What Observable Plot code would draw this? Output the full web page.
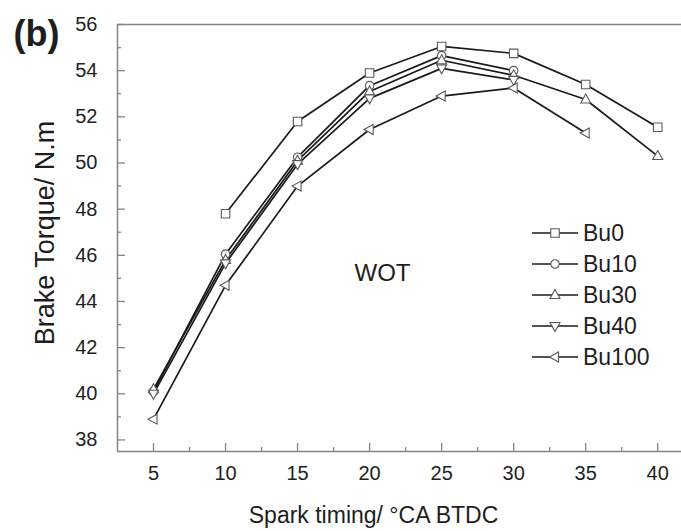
<!DOCTYPE html>
<html>
<head>
<meta charset="utf-8">
<script src="https://cdn.jsdelivr.net/npm/d3@7"></script>
<script src="https://cdn.jsdelivr.net/npm/@observablehq/plot@0.6"></script>
<style>
  body { margin: 0; background: #fff; }
  #chart { width: 681px; height: 531px; }
</style>
</head>
<body>
<div id="chart"></div>
<script>
// Spark timing (°CA BTDC) and brake torque (N.m) at wide open throttle
const timing = [5, 10, 15, 20, 25, 30, 35, 40];
const seriesNames = ["Bu0", "Bu10", "Bu30", "Bu40", "Bu100"];
const bu0   = [null, 47.8, 51.8, 53.9, 55.05, 54.75, 53.4, 51.55];
const bu10  = [40.1, 46.05, 50.25, 53.35, 54.65, 54.0, null, null];
const bu30  = [40.2, 45.8, 50.1, 53.1, 54.45, 53.8, 52.75, 50.3];
const bu40  = [40.0, 45.65, 49.95, 52.8, 54.1, 53.6, null, null];
const bu100 = [38.9, 44.7, 49.0, 51.45, 52.9, 53.25, 51.3, null];

const xTicks = [5, 10, 15, 20, 25, 30, 35, 40];
const xMinorTicks = [7.5, 12.5, 17.5, 22.5, 27.5, 32.5, 37.5];
const yTicks = [38, 40, 42, 44, 46, 48, 50, 52, 54, 56];
const yMinorTicks = [39, 41, 43, 45, 47, 49, 51, 53, 55];

const xDomain = [2.5, 41.65];
const yDomain = [37.5, 56];

// Layout
const width = 681, height = 531;
const margin = {top: 24, right: 0, bottom: 80, left: 117};
const frameW = width - margin.left - margin.right;
const frameH = height - margin.top - margin.bottom;
const font = "'Liberation Sans', Arial, Helvetica, sans-serif";
const frameColor = "#858585";
const lineColor = "#1a1a1a";
const markColor = "#5a5a5a";
const textColor = "#1e1e1e";

// Hollow marker shapes, scaled from the symbol size (area = π r²)
function polygon(points) {
  return {
    draw(ctx, size) {
      const r = Math.sqrt(size / Math.PI);
      points.forEach(([px, py], i) => i ? ctx.lineTo(px * r, py * r) : ctx.moveTo(px * r, py * r));
      ctx.closePath();
    }
  };
}
const square = polygon([[-0.85, -0.85], [0.85, -0.85], [0.85, 0.85], [-0.85, 0.85]]);
const circle = {
  draw(ctx, size) {
    const r = Math.sqrt(size / Math.PI) * 0.85;
    ctx.moveTo(r, 0);
    ctx.arc(0, 0, r, 0, 2 * Math.PI);
  }
};
const triUp = polygon([[0, -1.1], [1, 0.7], [-1, 0.7]]);
const triDown = polygon([[0, 1.1], [1, -0.7], [-1, -0.7]]);
const triLeft = polygon([[-1.1, 0], [0.7, -1], [0.7, 1]]);

const seriesValues = [bu0, bu10, bu30, bu40, bu100];
const seriesSymbols = [square, circle, triUp, triDown, triLeft];

const series = seriesNames.map((name, k) => ({
  name,
  symbol: seriesSymbols[k],
  rows: timing
    .map((t, i) => ({series: name, timing: t, torque: seriesValues[k][i]}))
    .filter(d => d.torque != null)
}));

const markerR = 5;

const svg = Plot.plot({
  width, height,
  marginTop: margin.top, marginRight: margin.right,
  marginBottom: margin.bottom, marginLeft: margin.left,
  style: {fontFamily: font, color: textColor, background: "white", overflow: "visible"},
  x: {domain: xDomain},
  y: {domain: yDomain},
  marks: [
    // frame: left, bottom and top edges
    Plot.ruleX([xDomain[0]], {stroke: frameColor, strokeWidth: 1.5}),
    Plot.ruleY(yDomain, {stroke: frameColor, strokeWidth: 1.5}),
    // inward ticks
    Plot.tickX(xTicks, {x: d => d, insetTop: frameH - 8, stroke: frameColor, strokeWidth: 1.3}),
    Plot.tickX(xMinorTicks, {x: d => d, insetTop: frameH - 4, stroke: frameColor, strokeWidth: 1.3}),
    Plot.tickY(yTicks, {y: d => d, insetRight: frameW - 8, stroke: frameColor, strokeWidth: 1.3}),
    Plot.tickY(yMinorTicks, {y: d => d, insetRight: frameW - 4, stroke: frameColor, strokeWidth: 1.3}),
    // tick labels
    Plot.axisX({ticks: xTicks, tickSize: 0, tickPadding: 14, fontSize: 20, label: null, fill: textColor}),
    Plot.axisY({ticks: yTicks, tickSize: 0, tickPadding: 20, fontSize: 20, label: null, fill: textColor}),
    // series lines, then hollow markers on top
    ...series.map(s => Plot.line(s.rows, {x: "timing", y: "torque", stroke: lineColor, strokeWidth: 1.7})),
    ...series.map(s => Plot.dot(s.rows, {x: "timing", y: "torque", symbol: s.symbol, r: markerR,
                                        fill: "white", stroke: markColor, strokeWidth: 1.1})),
    // axis titles
    Plot.text(["Spark timing/ °CA BTDC"], {frameAnchor: "bottom", text: d => d, dx: -26, dy: 71,
                                          textAnchor: "middle", lineAnchor: "bottom", fontSize: 23}),
    Plot.text(["Brake Torque/ N.m"], {frameAnchor: "left", text: d => d, rotate: -90, dx: -72, dy: -5,
                                     textAnchor: "middle", lineAnchor: "middle", fontSize: 27}),
    // annotations
    Plot.text(["WOT"], {frameAnchor: "middle", text: d => d, dx: -17, dy: 35,
                        textAnchor: "middle", lineAnchor: "middle", fontSize: 24}),
    Plot.text(["(b)"], {frameAnchor: "top-left", text: d => d, textAnchor: "start", dx: -104, dy: 21,
                        lineAnchor: "bottom", fontSize: 36, fontWeight: "bold"})
  ]
});

// Legend: line segment with marker, followed by the series name
const legend = {x: 532, y: 233, lineLen: 46, gap: 5, row: 31};
const lg = d3.select(svg).append("g")
  .attr("font-family", font).attr("font-size", 23).attr("text-anchor", "start");
series.forEach((s, i) => {
  const y = legend.y + i * legend.row;
  const g = lg.append("g").attr("transform", `translate(${legend.x},${y})`);
  g.append("line").attr("x1", 0).attr("x2", legend.lineLen).attr("y1", 0).attr("y2", 0)
    .attr("stroke", lineColor).attr("stroke-width", 1.7);
  g.append("path")
    .attr("transform", `translate(${legend.lineLen / 2},0)`)
    .attr("d", d3.symbol(s.symbol, Math.PI * markerR * markerR)())
    .attr("fill", "white").attr("stroke", markColor).attr("stroke-width", 1.1);
  g.append("text").attr("x", legend.lineLen + legend.gap).attr("y", 0).attr("dy", "0.35em")
    .attr("fill", textColor).text(s.name);
});

document.getElementById("chart").appendChild(svg);
</script>
</body>
</html>
